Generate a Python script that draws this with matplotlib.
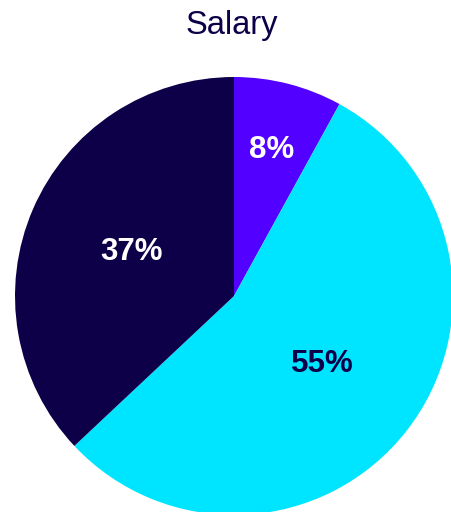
import numpy as np
import matplotlib.pyplot as plt

labels = ['8%', '55%', '37%']
values = [8, 55, 37]
colors = ['#5200ff', '#00e5ff', '#0e0048']
text_colors = ['white', '#0e0048', 'white']
label_dist = [0.69, 0.51, 0.51]

W, H = 452, 512
fig = plt.figure(figsize=(W / 100, H / 100), dpi=100)
cx, cy, r = 234, 296, 219
ax = fig.add_axes([(cx - r) / W, (H - cy - r) / H, 2 * r / W, 2 * r / H])

wedges, _ = ax.pie(values, colors=colors, startangle=90, counterclock=False,
                   radius=1, wedgeprops=dict(linewidth=0))
for w, lab, tc, d in zip(wedges, labels, text_colors, label_dist):
    ang = np.deg2rad((w.theta1 + w.theta2) / 2)
    ax.text(d * np.cos(ang), d * np.sin(ang), lab, ha='center', va='center',
            color=tc, fontsize=22.5, fontweight='bold', family='Liberation Sans')
ax.set_xlim(-1, 1)
ax.set_ylim(-1, 1)
ax.set_aspect('equal')
ax.axis('off')

fig.text(232 / W, 1 - 34 / H, 'Salary', ha='center', va='baseline',
         color='#0e0048', fontsize=23.5, family='Liberation Sans')

fig.savefig('out.png', dpi=100)
